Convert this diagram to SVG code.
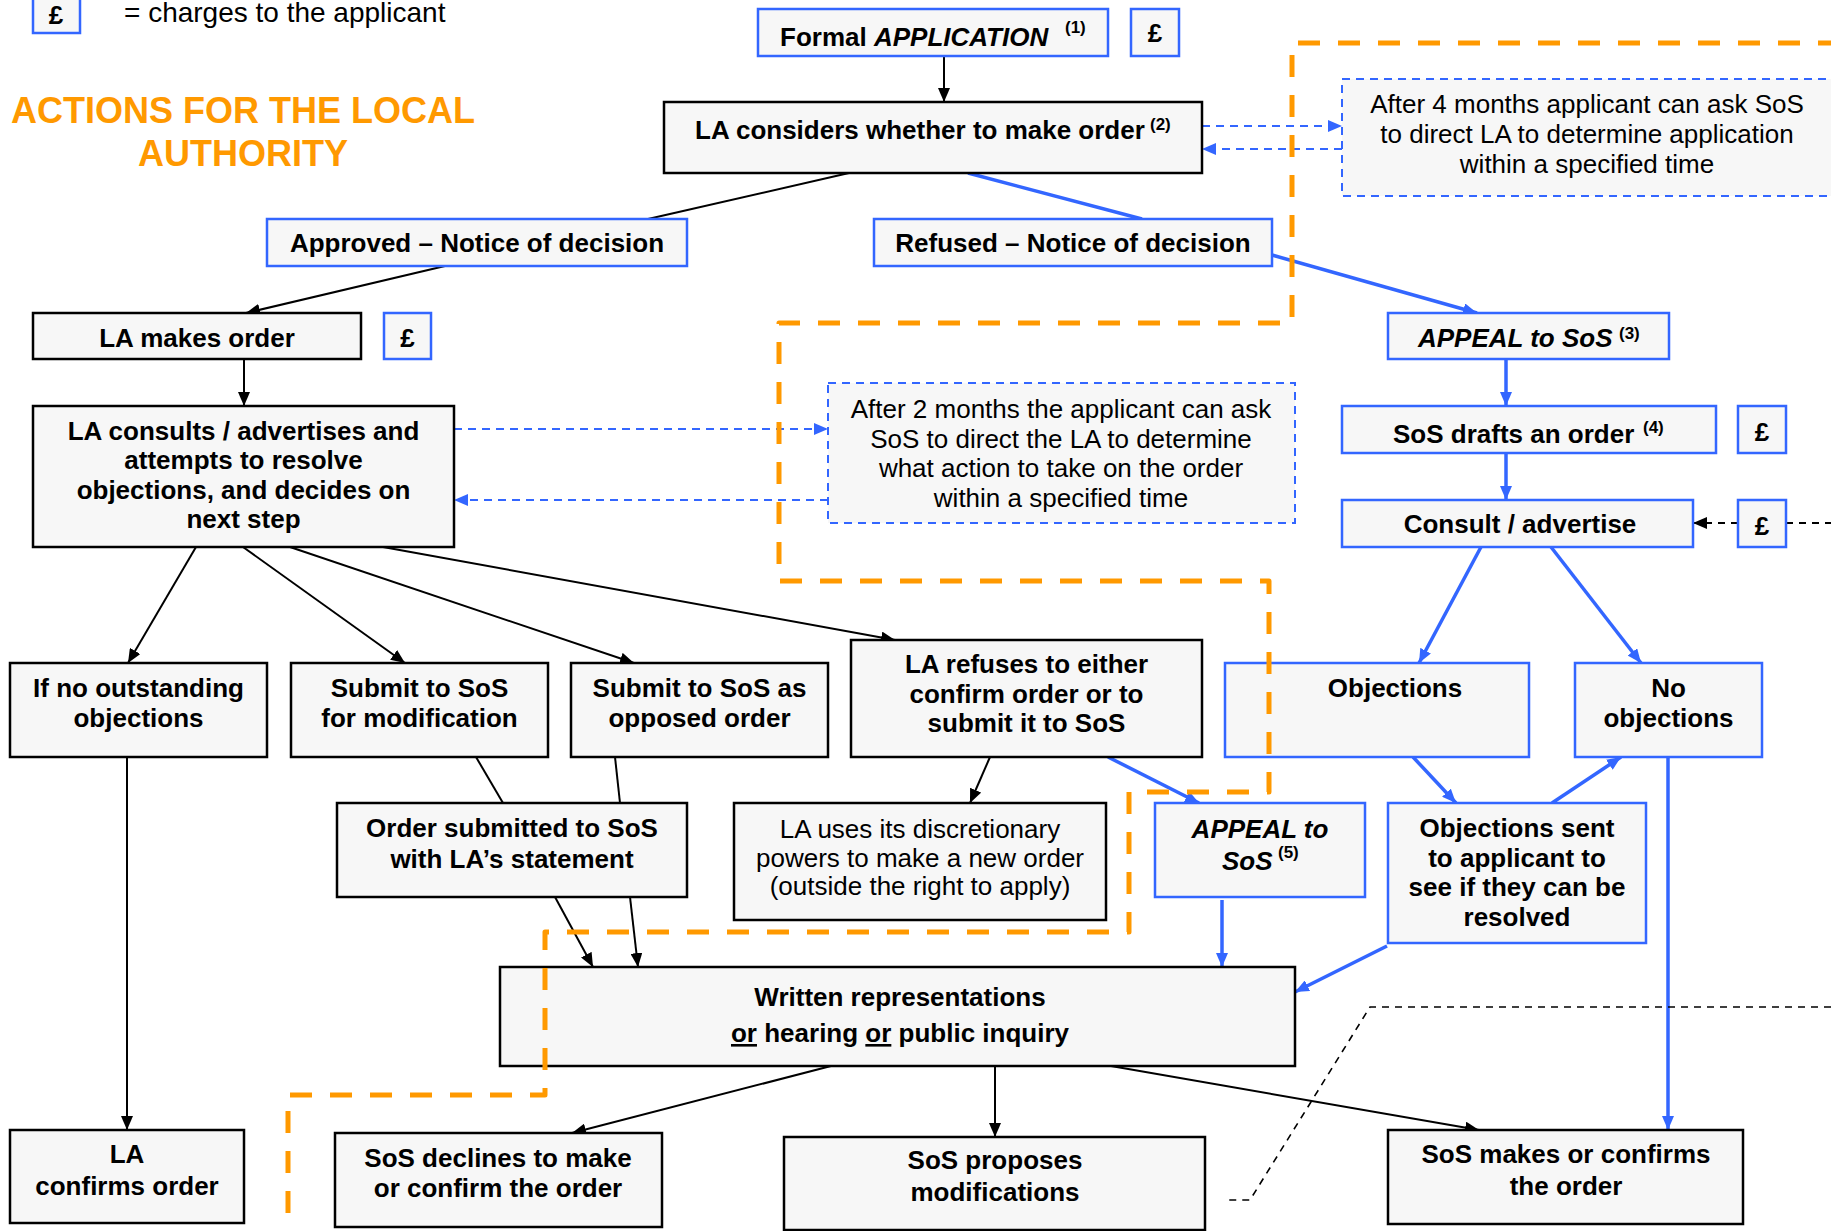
<svg xmlns="http://www.w3.org/2000/svg" width="1831" height="1231" viewBox="0 0 1831 1231">
<style>
.bx{fill:#F7F7F7;stroke:#000;stroke-width:2.5}
.bb{fill:#F7F7F7;stroke:#3366FF;stroke-width:2.5}
.bd{fill:#F7F7F7;stroke:#3366FF;stroke-width:2;stroke-dasharray:8 6}
text{font-family:"Liberation Sans",Arial,sans-serif;fill:#000}
.t{font-size:26px;font-weight:bold;text-anchor:middle}
.ts{font-size:26px;font-weight:bold}
.r{font-size:26px;text-anchor:middle}
.i{font-style:italic}
.sup{font-size:17px;font-weight:bold}
.k{stroke:#000;stroke-width:2;fill:none}
.u{stroke:#3366FF;stroke-width:3.5;fill:none}
.ud{stroke:#3366FF;stroke-width:2;fill:none;stroke-dasharray:8 6}
.kd{stroke:#000;stroke-width:2;fill:none;stroke-dasharray:7 6}
.kt{stroke:#000;stroke-width:1.6;fill:none;stroke-dasharray:7 6}
.or{stroke:#FF9900;stroke-width:5;fill:none;stroke-dasharray:22 18;stroke-linejoin:round}
</style>
<defs>
<marker id="ak" viewBox="0 0 14 12" refX="14" refY="6" markerWidth="14" markerHeight="12" orient="auto" markerUnits="userSpaceOnUse"><path d="M0,0 L14,6 L0,12 z" fill="#000"/></marker>
<marker id="au" viewBox="0 0 14 12" refX="14" refY="6" markerWidth="14" markerHeight="12" orient="auto" markerUnits="userSpaceOnUse"><path d="M0,0 L14,6 L0,12 z" fill="#3366FF"/></marker>
</defs>
<rect width="1831" height="1231" fill="#fff"/>

<g id="legend">
<rect class="bb" x="33" y="-2" width="47" height="35"/>
<text class="t" x="56" y="24">£</text>
<text x="124" y="22" font-size="28">= charges to the applicant</text>
</g>
<g id="title">
<text x="243" y="123" font-size="36" font-weight="bold" text-anchor="middle" style="fill:#FF9900">ACTIONS FOR THE LOCAL</text>
<text x="243" y="166" font-size="36" font-weight="bold" text-anchor="middle" style="fill:#FF9900">AUTHORITY</text>
</g>

<g id="connectors">
<path class="k" d="M944,56 L944,102" marker-end="url(#ak)"/>
<path class="k" d="M849,173 L648,219"/>
<path class="k" d="M445,266 L246,313" marker-end="url(#ak)"/>
<path class="k" d="M244,359 L244,406" marker-end="url(#ak)"/>
<path class="k" d="M196,547 L128,663" marker-end="url(#ak)"/>
<path class="k" d="M243,547 L405,663" marker-end="url(#ak)"/>
<path class="k" d="M290,547 L634,663" marker-end="url(#ak)"/>
<path class="k" d="M383,547 L895,640" marker-end="url(#ak)"/>
<path class="k" d="M476,757 L503,803"/>
<path class="k" d="M615,757 L620,803"/>
<path class="k" d="M555,897 L593,967" marker-end="url(#ak)"/>
<path class="k" d="M630,897 L638,967" marker-end="url(#ak)"/>
<path class="k" d="M990,757 L970,803" marker-end="url(#ak)"/>
<path class="k" d="M127,757 L127,1130" marker-end="url(#ak)"/>
<path class="k" d="M831,1066 L572,1133" marker-end="url(#ak)"/>
<path class="k" d="M995,1066 L995,1137" marker-end="url(#ak)"/>
<path class="k" d="M1111,1066 L1479,1130" marker-end="url(#ak)"/>
<path class="u" d="M968,173 L1142,219"/>
<path class="u" d="M1272,255 L1477,313" marker-end="url(#au)"/>
<path class="u" d="M1506,359 L1506,406" marker-end="url(#au)"/>
<path class="u" d="M1506,453 L1506,500" marker-end="url(#au)"/>
<path class="u" d="M1481,547 L1419,663" marker-end="url(#au)"/>
<path class="u" d="M1551,547 L1641,663" marker-end="url(#au)"/>
<path class="u" d="M1108,757 L1199,803" marker-end="url(#au)"/>
<path class="u" d="M1222,900 L1222,967" marker-end="url(#au)"/>
<path class="u" d="M1413,757 L1456,803" marker-end="url(#au)"/>
<path class="u" d="M1552,803 L1621,757" marker-end="url(#au)"/>
<path class="u" d="M1387,946 L1295,992" marker-end="url(#au)"/>
<path class="u" d="M1668,757 L1668,1130" marker-end="url(#au)"/>
<path class="ud" d="M1202,126 L1342,126" marker-end="url(#au)"/>
<path class="ud" d="M1342,149 L1202,149" marker-end="url(#au)"/>
<path class="ud" d="M454,429 L828,429" marker-end="url(#au)"/>
<path class="ud" d="M828,500 L454,500" marker-end="url(#au)"/>
<path class="kd" d="M1738,523 L1693,523" marker-end="url(#ak)"/>
<path class="kd" d="M1786,523 L1831,523"/>
<path class="kt" d="M1831,1007 L1370,1007 L1250,1200 L1224,1200"/>
</g>

<g id="n-formal">
<rect class="bb" x="758" y="9" width="350" height="47"/>
<text class="ts" x="780" y="46">Formal <tspan class="i">APPLICATION</tspan></text>
<text class="sup" x="1065" y="33">(1)</text>
</g>
<g id="n-fee1"><rect class="bb" x="1131" y="9" width="48" height="47"/><text class="t" x="1155" y="42">£</text></g>
<g id="n-considers">
<rect class="bx" x="664" y="102" width="538" height="71"/>
<text class="ts" x="695" y="139">LA considers whether to make order</text>
<text class="sup" x="1150" y="130">(2)</text>
</g>
<g id="n-after4">
<rect class="bd" x="1342" y="79" width="492" height="117"/>
<text class="r" x="1587" y="113">After 4 months applicant can ask SoS</text>
<text class="r" x="1587" y="143">to direct LA to determine application</text>
<text class="r" x="1587" y="173">within a specified time</text>
</g>
<g id="n-approved"><rect class="bb" x="267" y="219" width="420" height="47"/><text class="t" x="477" y="252">Approved – Notice of decision</text></g>
<g id="n-refused"><rect class="bb" x="874" y="219" width="398" height="47"/><text class="t" x="1073" y="252">Refused – Notice of decision</text></g>
<g id="n-makes"><rect class="bx" x="33" y="313" width="328" height="46"/><text class="t" x="197" y="347">LA makes order</text></g>
<g id="n-fee2"><rect class="bb" x="384" y="313" width="47" height="46"/><text class="t" x="407.5" y="347">£</text></g>
<g id="n-appeal3">
<rect class="bb" x="1388" y="313" width="281" height="46"/>
<text class="ts i" x="1418" y="347">APPEAL to SoS</text>
<text class="sup" x="1619" y="339">(3)</text>
</g>
<g id="n-consults">
<rect class="bx" x="33" y="406" width="421" height="141"/>
<text class="t" x="243.5" y="440">LA consults / advertises and</text>
<text class="t" x="243.5" y="469">attempts to resolve</text>
<text class="t" x="243.5" y="499">objections, and decides on</text>
<text class="t" x="243.5" y="528">next step</text>
</g>
<g id="n-after2">
<rect class="bd" x="828" y="383" width="467" height="140"/>
<text class="r" x="1061" y="418">After 2 months the applicant can ask</text>
<text class="r" x="1061" y="448">SoS to direct the LA to determine</text>
<text class="r" x="1061" y="477">what action to take on the order</text>
<text class="r" x="1061" y="507">within a specified time</text>
</g>
<g id="n-drafts">
<rect class="bb" x="1342" y="406" width="374" height="47"/>
<text class="ts" x="1393" y="443">SoS drafts an order</text>
<text class="sup" x="1643" y="433">(4)</text>
</g>
<g id="n-fee3"><rect class="bb" x="1738" y="406" width="48" height="47"/><text class="t" x="1762" y="441">£</text></g>
<g id="n-consult"><rect class="bb" x="1342" y="500" width="351" height="47"/><text class="t" x="1520" y="533">Consult / advertise</text></g>
<g id="n-fee4"><rect class="bb" x="1738" y="500" width="48" height="47"/><text class="t" x="1762" y="535">£</text></g>

<g id="n-noout"><rect class="bx" x="10" y="663" width="257" height="94"/><text class="t" x="138.5" y="697">If no outstanding</text><text class="t" x="138.5" y="727">objections</text></g>
<g id="n-submod"><rect class="bx" x="291" y="663" width="257" height="94"/><text class="t" x="419.5" y="697">Submit to SoS</text><text class="t" x="419.5" y="727">for modification</text></g>
<g id="n-subopp"><rect class="bx" x="571" y="663" width="257" height="94"/><text class="t" x="699.5" y="697">Submit to SoS as</text><text class="t" x="699.5" y="727">opposed order</text></g>
<g id="n-refuses"><rect class="bx" x="851" y="640" width="351" height="117"/><text class="t" x="1026.5" y="673">LA refuses to either</text><text class="t" x="1026.5" y="703">confirm order or to</text><text class="t" x="1026.5" y="732">submit it to SoS</text></g>
<g id="n-objections"><rect class="bb" x="1225" y="663" width="304" height="94"/><text class="t" x="1395" y="697">Objections</text></g>
<g id="n-noobj"><rect class="bb" x="1575" y="663" width="187" height="94"/><text class="t" x="1668.5" y="697">No</text><text class="t" x="1668.5" y="727">objections</text></g>

<g id="n-ordersub"><rect class="bx" x="337" y="803" width="350" height="94"/><text class="t" x="512" y="837">Order submitted to SoS</text><text class="t" x="512" y="868">with LA’s statement</text></g>
<g id="n-discretion"><rect class="bx" x="734" y="803" width="372" height="117"/><text class="r" x="920" y="838">LA uses its discretionary</text><text class="r" x="920" y="867">powers to make a new order</text><text class="r" x="920" y="895">(outside the right to apply)</text></g>
<g id="n-appeal5">
<rect class="bb" x="1155" y="803" width="210" height="94"/>
<text class="t i" x="1260" y="838">APPEAL to</text>
<text class="ts i" x="1222" y="870">SoS</text>
<text class="sup" x="1278" y="858">(5)</text>
</g>
<g id="n-objsent"><rect class="bb" x="1388" y="803" width="258" height="140"/><text class="t" x="1517" y="837">Objections sent</text><text class="t" x="1517" y="867">to applicant to</text><text class="t" x="1517" y="896">see if they can be</text><text class="t" x="1517" y="926">resolved</text></g>

<g id="n-written">
<rect class="bx" x="500" y="967" width="795" height="99"/>
<text class="t" x="900" y="1006">Written representations</text>
<text class="t" x="900" y="1042"><tspan text-decoration="underline">or</tspan> hearing <tspan text-decoration="underline">or</tspan> public inquiry</text>
</g>
<g id="n-laconfirms"><rect class="bx" x="10" y="1130" width="234" height="93"/><text class="t" x="127" y="1163">LA</text><text class="t" x="127" y="1195">confirms order</text></g>
<g id="n-declines"><rect class="bx" x="335" y="1133" width="327" height="94"/><text class="t" x="498" y="1167">SoS declines to make</text><text class="t" x="498" y="1197">or confirm the order</text></g>
<g id="n-proposes"><rect class="bx" x="784" y="1137" width="421" height="93"/><text class="t" x="995" y="1169">SoS proposes</text><text class="t" x="995" y="1201">modifications</text></g>
<g id="n-sosmakes"><rect class="bx" x="1388" y="1130" width="355" height="94"/><text class="t" x="1566" y="1163">SoS makes or confirms</text><text class="t" x="1566" y="1195">the order</text></g>

<g id="la-boundary">
<path class="or" d="M1840,43 L1292,43 L1292,323 L779,323 L779,581 L1269,581 L1269,792 L1129,792 L1129,932 L545,932 L545,1095 L288,1095 L288,1240"/>
</g>
</svg>
